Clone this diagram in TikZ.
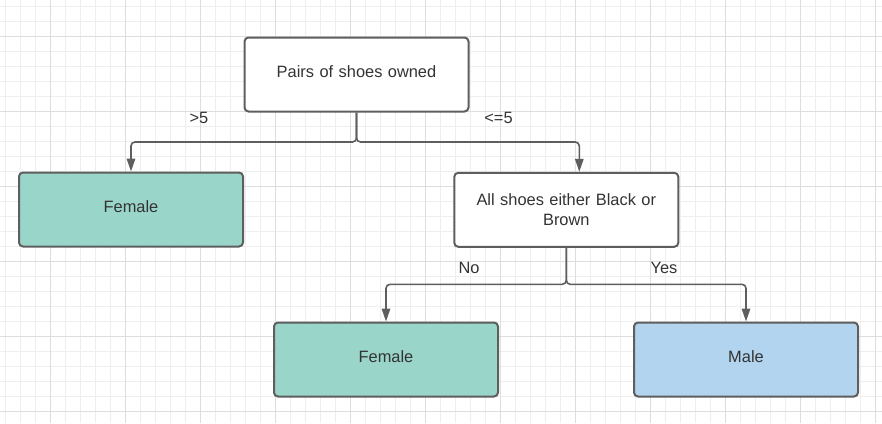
\documentclass[tikz,border=0pt]{standalone}
\usepackage{fontspec}
\setmainfont{Liberation Sans}
\usetikzlibrary{arrows.meta}
\definecolor{edgegray}{HTML}{5E5E5E}
\definecolor{txtgray}{HTML}{333333}
\definecolor{tealfill}{HTML}{9AD5CA}
\definecolor{bluefill}{HTML}{B2D4EE}
\definecolor{gridminor}{HTML}{EEEEEE}
\definecolor{gridmajor}{HTML}{DEDEDE}
\tikzset{
  box/.style={draw=edgegray, line width=2pt, rounded corners=4pt, fill=white,
    minimum width=224pt, minimum height=74pt, text=txtgray, align=center,
    font=\fontsize{16.4}{20}\selectfont, inner sep=0pt, text width=200pt},
  oneline/.style={text height=12pt, text depth=5.8pt},
  conn/.style={draw=edgegray, line width=1.6pt, rounded corners=4pt,
    -{Triangle[length=13pt,width=8.5pt]}},
  lbl/.style={text=txtgray, font=\fontsize{16.4}{20}\selectfont, inner sep=0pt},
  gminor/.style={draw=gridminor, line width=1pt},
  gmajor/.style={draw=gridmajor, line width=1pt}
}
\begin{document}
\begin{tikzpicture}[x=1pt,y=-1pt]
\useasboundingbox (0,0) rectangle (882,423);
\fill[white] (0,0) rectangle (882,423);
% grid
\foreach \x in {5,20,...,880} \draw[gminor] (\x,0) -- (\x,423);
\foreach \y in {6,21,...,421} \draw[gminor] (0,\y) -- (882,\y);
\foreach \x in {50,125,...,880} \draw[gmajor] (\x,0) -- (\x,423);
\foreach \y in {36,111,...,421} \draw[gmajor] (0,\y) -- (882,\y);
% nodes
\node[box, oneline] (top) at (356.5,74.5) {Pairs of shoes owned};
\node[box, oneline, fill=tealfill] (fl) at (131,209.5) {Female};
\node[box] (all) at (566.3,209.8) {All shoes either Black or\\[-0.6pt]Brown};
\node[box, oneline, fill=tealfill] (fb) at (386,359.5) {Female};
\node[box, oneline, fill=bluefill] (male) at (746,359.5) {Male};
% junction coordinates
\coordinate (j1) at (356.5,142);
\coordinate (j2) at (566.3,284.3);
% connectors
\draw[conn] (top.south) -- (top.south |- j1) -- (fl.north |- j1) -- (fl.north);
\draw[conn] (top.south) -- (top.south |- j1) -- (579.3,142) coordinate (r1) -- (r1 |- all.north);
\draw[conn] (all.south) -- (all.south |- j2) -- (fb.north |- j2) -- (fb.north);
\draw[conn] (all.south) -- (all.south |- j2) -- (male.north |- j2) -- (male.north);
% labels
\node[lbl] (l1) at (199,118) {>5};
\node[lbl] (l2) at (498.5,118) {<=5};
\node[lbl] (l3) at (469,268) {No};
\node[lbl] (l4) at (664,268) {Yes};
\end{tikzpicture}
\end{document}
